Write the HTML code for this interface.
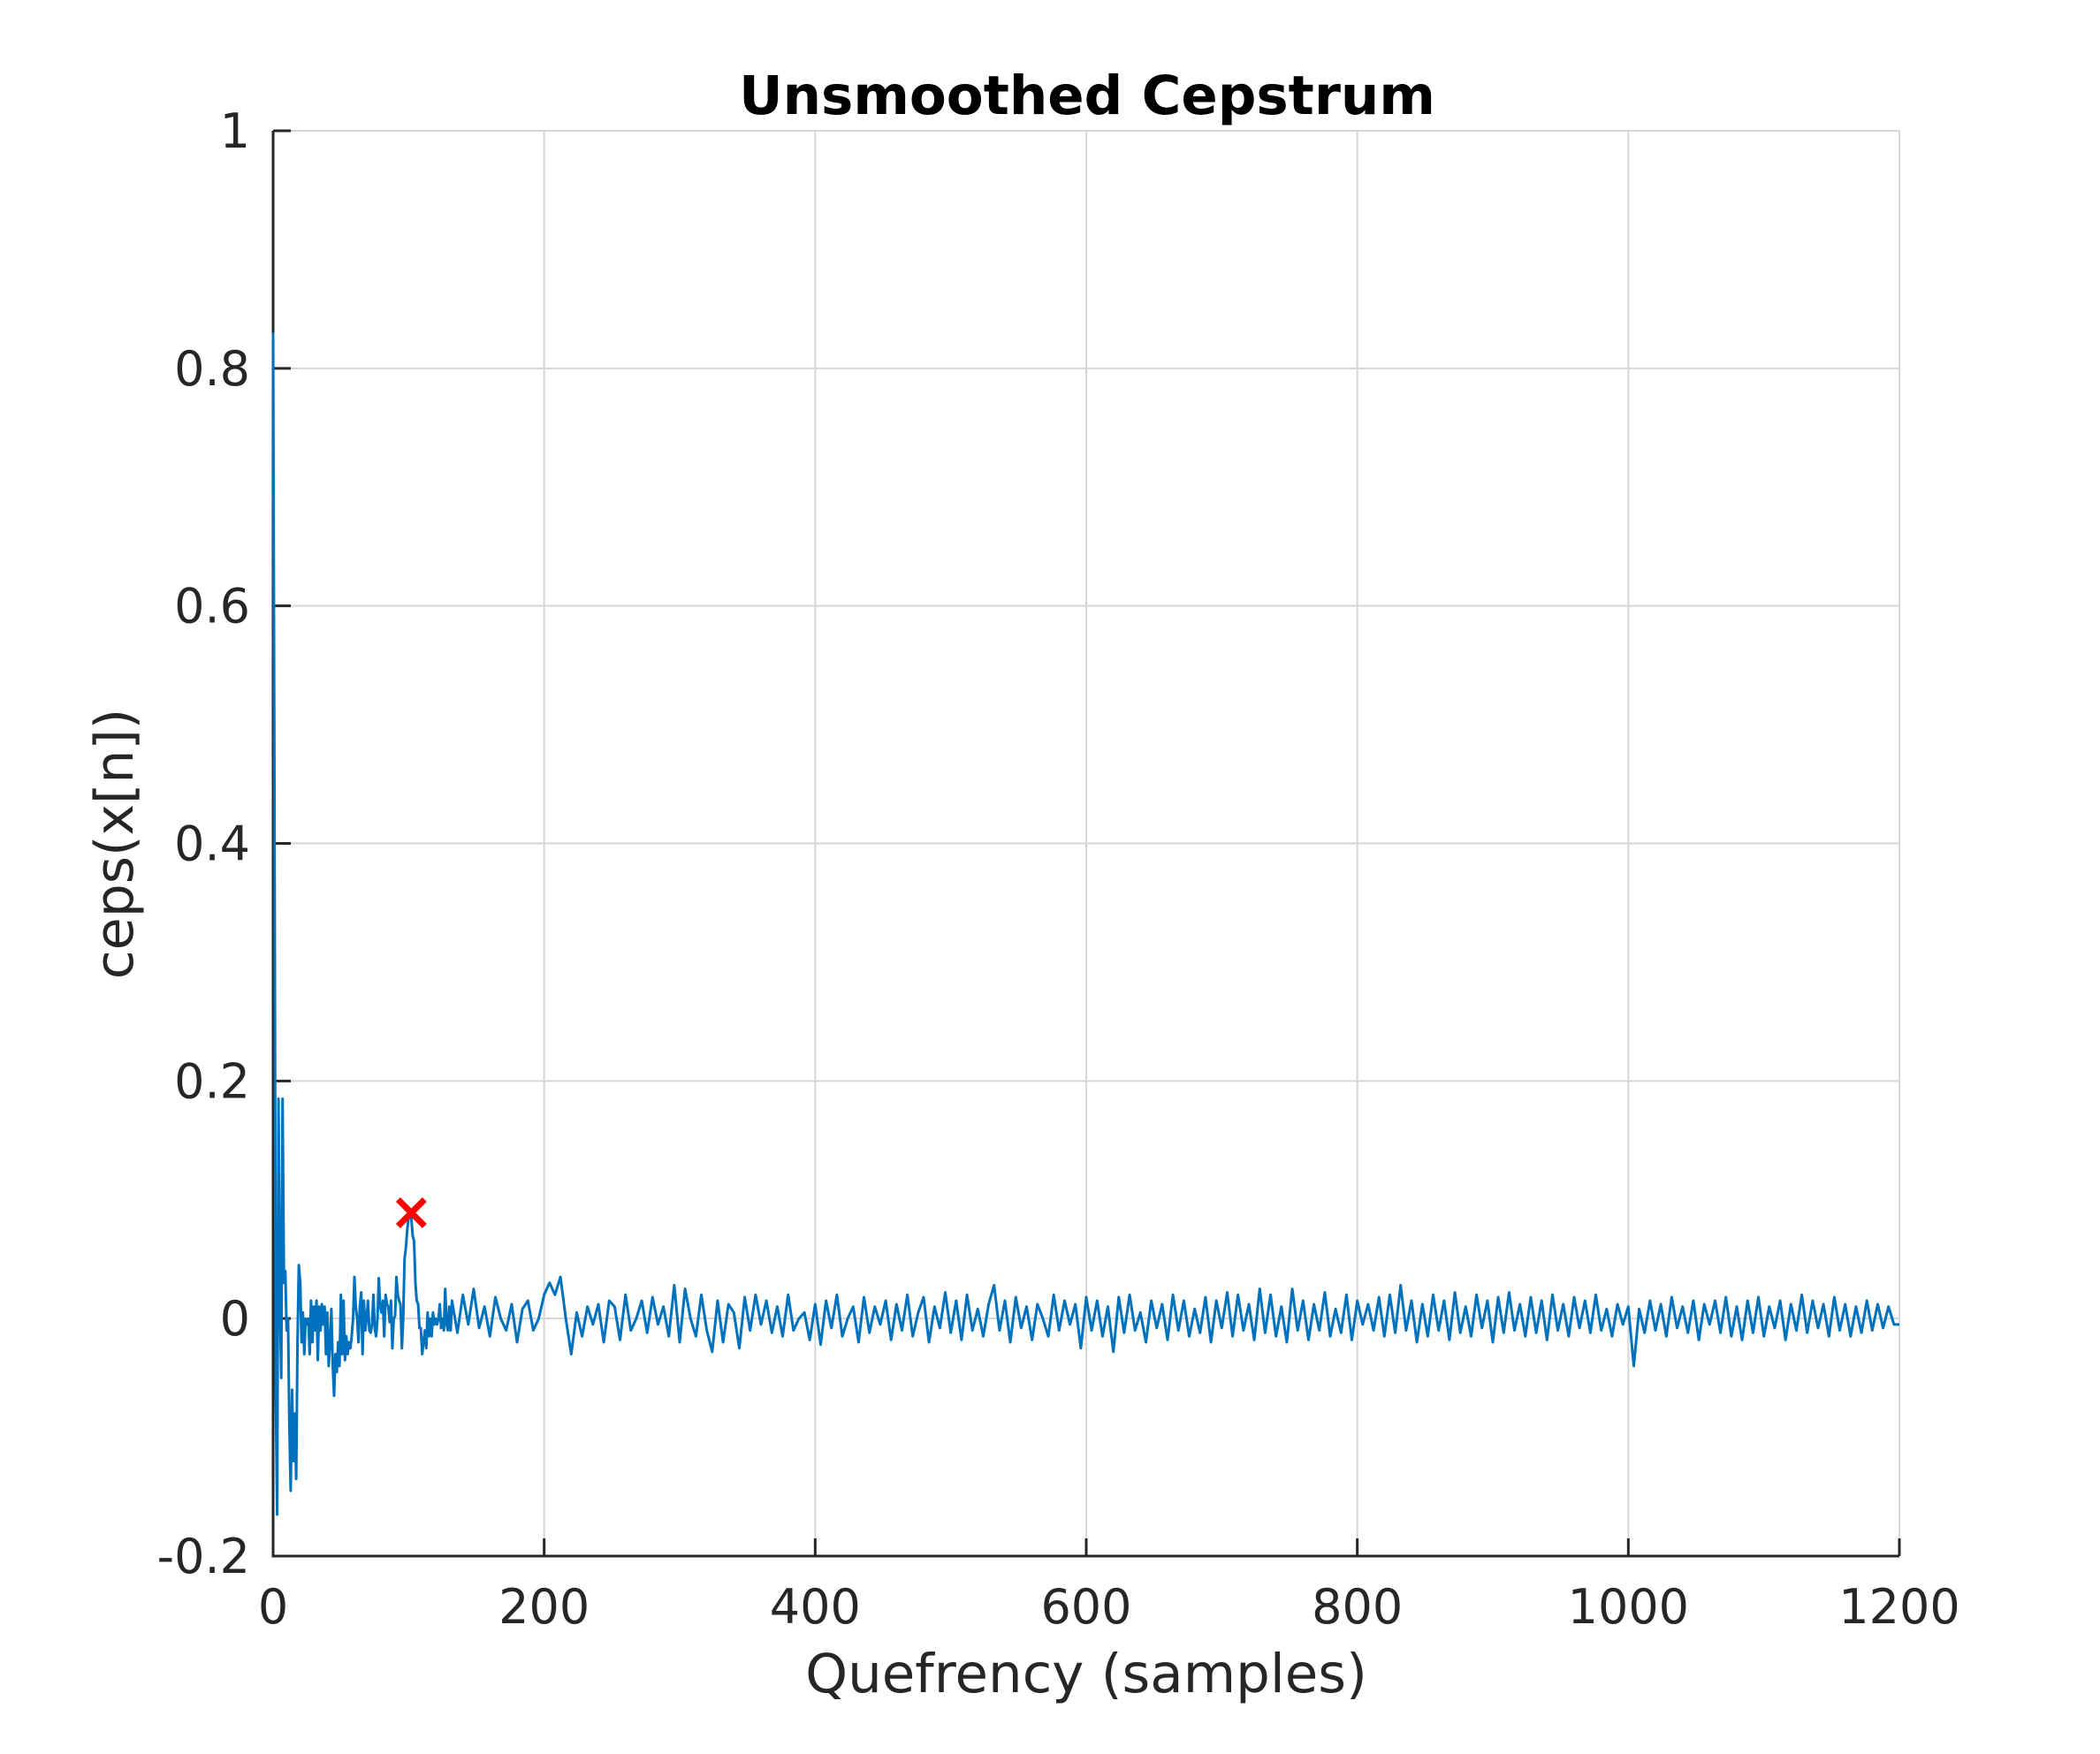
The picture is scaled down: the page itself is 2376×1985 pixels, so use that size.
<!DOCTYPE html>
<html><head><meta charset="utf-8"><style>
html,body{margin:0;padding:0;background:#fff}
svg text{font-family:"DejaVu Sans","Liberation Sans",sans-serif;fill:#262626}
</style></head><body>
<svg id="chart" width="2376" height="1980" xmlns="http://www.w3.org/2000/svg">
<rect width="2376" height="1980" fill="#fff"/>
<g id="grid"></g>
<g id="axes"></g>
<g id="plot"></g>
<text x="1230" y="129" text-anchor="middle" font-size="61" font-weight="bold" style="fill:#000">Unsmoothed Cepstrum</text>
<text x="1229" y="1915" text-anchor="middle" font-size="61">Quefrency (samples)</text>
<text transform="translate(150,955) rotate(-90)" text-anchor="middle" font-size="60">ceps(x[n])</text>
</svg>
<script>
const xTicks=[0,200,400,600,800,1000,1200];
const xTickLabels=["0","200","400","600","800","1000","1200"];
const yTicks=[-0.2,0,0.2,0.4,0.6,0.8,1];
const yTickLabels=["-0.2","0","0.2","0.4","0.6","0.8","1"];
const earlyValues=[0.83,0.45,-0.07,-0.165,0.185,0.02,-0.05,0.185,0.03,0.04,-0.01,0.0,-0.09,-0.145,-0.06,-0.12,-0.08,-0.135,-0.02,0.045,0.03,-0.02,0.005,-0.03,0.0,-0.005,0.0,-0.03,0.015,-0.02,0.01,
-0.01,0.015,-0.035,0.01,-0.01,0.012,-0.005,0.01,-0.03,0.005,-0.04,-0.02,0.008,-0.04,-0.065,-0.03,-0.045,-0.02,-0.04,0.02,-0.03,0.015,-0.035,-0.015,-0.03,-0.02,-0.025,-0.015,0.0,0.035,0.01,0.0,-0.02,0.01,0.022,-0.03,0.015,-0.01,0.0,0.015,-0.01,-0.012,-0.005,0.02,-0.008,-0.015,0.0,0.034,0.01,0.005,0.015,-0.015,0.02,0.012,0.01,-0.003,0.015,-0.025,0.0,0.002,0.035,0.02,0.015,0.012,-0.025,0.0,0.05,0.06,0.075,0.085,0.088,0.084,0.07,0.065,0.03,0.015,0.012,-0.008,-0.008,-0.03,-0.02,-0.01,-0.025,0.005,-0.015,0.0,-0.015,0.005,-0.005,0.0,-0.005,0.0,0.012,-0.008,0.0,-0.01,0.025,-0.005,-0.01,0.01,-0.01];
const lateStart=132;
const lateStep=4;
const lateValues=[.015,-.012,.02,-.005,.025,-.008,.01,-.015,.018,.0,-.01,.012,-.02,.008,.015,-.01,.0,.02,.03,.02,
.035,.0,-.03,.005,-.015,.01,-.005,.012,-.02,.015,.01,-.018,.02,-.01,.0,.015,-.012,.018,-.005,.01,
-.015,.028,-.02,.025,.0,-.015,.02,-.01,-.028,.015,-.02,.012,.005,-.025,.018,-.01,.02,-.005,.015,-.012,
.01,-.015,.02,-.01,.0,.005,-.018,.012,-.022,.015,-.008,.02,-.015,.0,.01,-.02,.018,-.012,.01,-.005,
.015,-.018,.012,-.01,.02,-.015,.005,.018,-.02,.01,-.008,.022,-.012,.015,-.018,.02,-.01,.008,-.015,.012,
.028,-.01,.015,-.02,.018,-.008,.01,-.018,.012,.0,-.015,.02,-.01,.015,-.005,.012,-.025,.018,-.01,.015,
-.015,.01,-.028,.018,-.012,.02,-.01,.005,-.02,.015,-.008,.012,-.018,.02,-.01,.015,-.015,.008,-.012,.018,
-.02,.015,-.008,.022,-.015,.02,-.01,.012,-.018,.025,-.012,.02,-.015,.01,-.02,.025,-.01,.015,-.018,.012,
-.01,.022,-.015,.008,-.012,.02,-.018,.015,-.005,.012,-.01,.018,-.015,.02,-.012,.028,-.01,.015,-.02,.012,
-.015,.02,-.01,.015,-.018,.022,-.012,.01,-.015,.02,-.008,.015,-.02,.018,-.012,.022,-.01,.012,-.015,.018,
-.012,.015,-.018,.02,-.01,.012,-.015,.018,-.008,.015,-.012,.02,-.01,.008,-.015,.012,-.005,.01,-.04,.008,
-.012,.015,-.01,.012,-.015,.018,-.008,.01,-.012,.015,-.018,.012,-.005,.015,-.012,.018,-.015,.01,-.018,.015,
-.012,.018,-.015,.01,-.008,.015,-.018,.012,-.01,.02,-.012,.015,-.008,.012,-.015,.018,-.01,.012,-.015,.01,
-.012,.015,-.01,.012,-.008,.01,-.005,-.005];
const peakX=[102];
const peakY=[0.089];

const NS="http://www.w3.org/2000/svg";
const L=309,R=2149,T=148,B=1761;
const xMin=0,xMax=1200,yMin=-0.2,yMax=1;
function sx(v){return L+(v-xMin)/(xMax-xMin)*(R-L);}
function sy(v){return B-(v-yMin)/(yMax-yMin)*(B-T);}
function mk(tag,attrs,parent){const e=document.createElementNS(NS,tag);for(const k in attrs)e.setAttribute(k,attrs[k]);parent.appendChild(e);return e;}
const grid=document.getElementById('grid'),axes=document.getElementById('axes'),plot=document.getElementById('plot');
xTicks.forEach((t,i)=>{
  const g=mk('line',{x1:sx(t),x2:sx(t),y1:T,y2:B,stroke:'#d6d6d6','stroke-width':2},grid);
  
  
  const tk=mk('line',{x1:sx(t),x2:sx(t),y1:B,y2:B-20,stroke:'#262626','stroke-width':3},axes);
  
  
  const tx=mk('text',{x:sx(t),y:1837,'text-anchor':'middle','font-size':54},axes);
  tx.textContent=xTickLabels[i];
  
  
});
yTicks.forEach((t,i)=>{
  const g=mk('line',{x1:L,x2:R,y1:sy(t),y2:sy(t),stroke:'#d6d6d6','stroke-width':2},grid);
  
  
  const tk=mk('line',{x1:L,x2:L+20,y1:sy(t),y2:sy(t),stroke:'#262626','stroke-width':3},axes);
  
  
  const tx=mk('text',{x:283,y:sy(t)+19,'text-anchor':'end','font-size':54},axes);
  tx.textContent=yTickLabels[i];
  
  
});
const ax=mk('path',{d:`M${L},${T}V${B}H${R}`,fill:'none',stroke:'#262626','stroke-width':3},axes);


const pts=[];
earlyValues.forEach((v,i)=>pts.push(sx(i).toFixed(1)+','+sy(v).toFixed(1)));
lateValues.forEach((v,i)=>pts.push(sx(lateStart+i*lateStep).toFixed(1)+','+sy(v).toFixed(1)));
const line=mk('polyline',{points:pts.join(' '),fill:'none',stroke:'#0072bd','stroke-width':3,'stroke-linejoin':'round'},plot);


peakX.forEach((p,i)=>{
  const cx=sx(p),cy=sy(peakY[i]),s=15;
  const m=mk('path',{d:`M${cx-s},${cy-s}L${cx+s},${cy+s}M${cx-s},${cy+s}L${cx+s},${cy-s}`,stroke:'#ff0000','stroke-width':7,fill:'none'},plot);
  
  
});
</script>
</body></html>
